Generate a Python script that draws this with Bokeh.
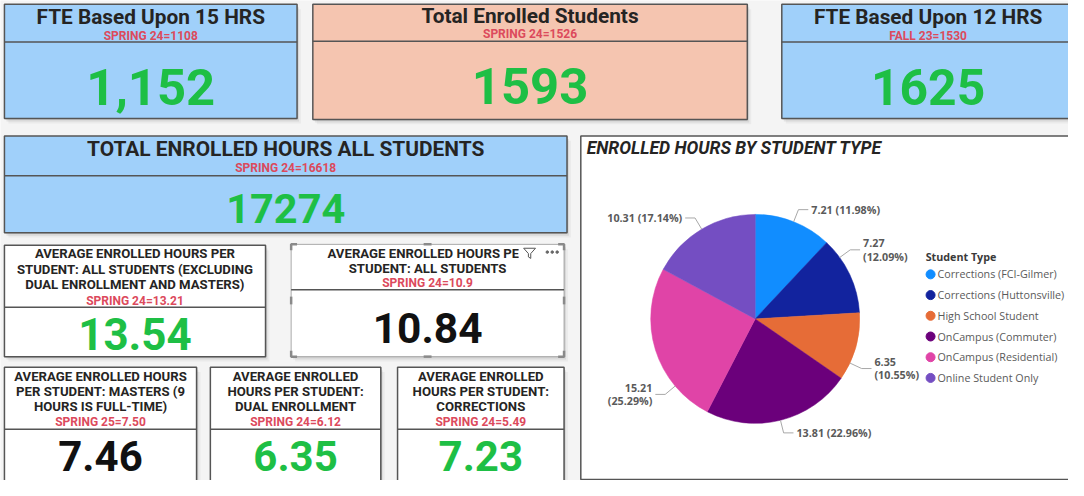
import math
from bokeh.plotting import figure
from bokeh.models import Range1d
from bokeh.core.properties import value
from bokeh.embed import file_html
from bokeh.resources import INLINE

# ---------------- data ----------------
kpi_titles = [
    ["FTE Based Upon 15 HRS"],
    ["Total Enrolled Students"],
    ["FTE Based Upon 12 HRS"],
    ["TOTAL ENROLLED HOURS ALL STUDENTS"],
    ["AVERAGE ENROLLED HOURS PER", "STUDENT: ALL STUDENTS (EXCLUDING", "DUAL ENROLLMENT AND MASTERS)"],
    ["AVERAGE ENROLLED HOURS PER", "STUDENT: ALL STUDENTS"],
    ["AVERAGE ENROLLED HOURS", "PER STUDENT: MASTERS (9", "HOURS IS FULL-TIME)"],
    ["AVERAGE ENROLLED", "HOURS PER STUDENT:", "DUAL ENROLLMENT"],
    ["AVERAGE ENROLLED", "HOURS PER STUDENT:", "CORRECTIONS"],
]
kpi_compare = ["SPRING 24=1108", "SPRING 24=1526", "FALL 23=1530", "SPRING 24=16618",
               "SPRING 24=13.21", "SPRING 24=10.9", "SPRING 25=7.50", "SPRING 24=6.12",
               "SPRING 24=5.49"]
kpi_values = [1152, 1593, 1625, 17274, 13.54, 10.84, 7.46, 6.35, 7.23]
kpi_formats = ["{:,}", "{}", "{}", "{}", "{:.2f}", "{:.2f}", "{:.2f}", "{:.2f}", "{:.2f}"]

pie_title = "ENROLLED HOURS BY STUDENT TYPE"
legend_title = "Student Type"
student_types = ["Corrections (FCI-Gilmer)", "Corrections (Huttonsville)", "High School Student",
                 "OnCampus (Commuter)", "OnCampus (Residential)", "Online Student Only"]
avg_hours = [7.21, 7.27, 6.35, 13.81, 15.21, 10.31]
pct_share = [11.98, 12.09, 10.55, 22.96, 25.29, 17.14]

# ---------------- style / layout ----------------
W, H = 1068, 480
REF_W, REF_H = 1084, 496
SX, SY = W / REF_W, H / REF_H
FS = (SX + SY) / 2          # font scale

BLUE = "#A0D0FA"
SALMON = "#F5C5B0"
WHITE = "#FFFFFF"
GREEN = "#1EBF45"
BLACK = "#111111"
RED = "#DC4A5C"
INK = "#252423"
BORDER = "#555555"
KPI_FONT = "Roboto"
UI = "Open Sans"
slice_colors = ["#118DFF", "#12239E", "#E66C37", "#6B007B", "#E044A7", "#744EC2"]

# tc: title line centres, sc: comparison-line centre, ny: number centre
cards = [
    dict(x0=4, x1=301, y0=4, y1=122, div=43, bg=BLUE, tc=[16.7], ts=21.3, sc=36.2, ny=89, ns=52, nc=GREEN),
    dict(x0=317, x1=758, y0=4, y1=123, div=42, bg=SALMON, tc=[15.5], ts=21.3, sc=35, ny=88.5, ns=52, nc=GREEN),
    dict(x0=793, x1=1090, y0=4, y1=122, div=43, bg=BLUE, tc=[16.7], ts=21.3, sc=36.2, ny=89, ns=51, nc=GREEN),
    dict(x0=4, x1=575, y0=140, y1=240, div=181, bg=BLUE, tc=[153.7], ts=21.4, sc=173.3, ny=215, ns=42.5, nc=GREEN),
    dict(x0=4, x1=269, y0=253, y1=368, div=317, bg=WHITE, tc=[261.8, 277.5, 293.8], ts=13.5, sc=310, ny=345, ns=45, nc=GREEN),
    dict(x0=295, x1=572, y0=252, y1=368, div=299, bg=WHITE, tc=[261.2, 277], ts=13.5, sc=292.2, ny=338.5, ns=43.5, nc=BLACK, sel=True),
    dict(x0=4, x1=199, y0=379, y1=500, div=443, bg=WHITE, tc=[388.3, 404.3, 420], ts=13.5, sc=435.5, ny=470.5, ns=43, nc=BLACK),
    dict(x0=213, x1=386, y0=379, y1=500, div=443, bg=WHITE, tc=[388.3, 404.3, 420], ts=13.5, sc=435.5, ny=470.5, ns=43, nc=GREEN),
    dict(x0=403, x1=572, y0=379, y1=500, div=443, bg=WHITE, tc=[388.3, 404.3, 420], ts=13.5, sc=435.5, ny=470.5, ns=43, nc=GREEN),
]
SUB_SIZE = 12.3
pie_box = dict(x0=589, x1=1090, y0=140, y1=495)
pie_cx, pie_cy, pie_r = 766, 329, 107
label_angles = [68.4, 36, -25, -76, -140, 120.8]   # degrees, label anchor direction
label_two_lines = [False, True, True, False, True, False]
legend_x, legend_y0, legend_dy = 944, 283, 21.4

# ---------------- figure ----------------
p = figure(width=W, height=H, x_range=Range1d(0, REF_W), y_range=Range1d(REF_H, 0),
           output_backend="svg", toolbar_location=None, min_border=0)
p.axis.visible = False
p.xgrid.visible = False
p.ygrid.visible = False
p.outline_line_color = None
p.background_fill_color = "#F4F4F4"
p.border_fill_color = "#F4F4F4"


def add_text(x, y, txt, size, font, color, style="bold", align="center"):
    p.text(x=[x], y=[y], text=[txt], text_font=value(font), text_font_size=f"{size * FS:.2f}px",
           text_font_style=style, text_color=color, text_align=align, text_baseline="middle")


def shadow(x0, x1, y0, y1):
    for dx, dy, a in [(1, 1, 0.10), (2, 3, 0.07), (4, 5, 0.04)]:
        p.quad(left=[x0 + dx], right=[x1 + dx], top=[y0 + dy], bottom=[y1 + dy],
               fill_color="black", fill_alpha=a, line_color=None)


for i, c in enumerate(cards):
    shadow(c["x0"], c["x1"], c["y0"], c["y1"])
    sel = c.get("sel", False)
    p.quad(left=[c["x0"]], right=[c["x1"]], top=[c["y0"]], bottom=[c["y1"]],
           fill_color=c["bg"], line_color="#AAAAAA" if sel else BORDER,
           line_width=1 if sel else 1.5)
    p.line(x=[c["x0"], c["x1"]], y=[c["div"], c["div"]], line_color=BORDER, line_width=1.5)
    cx = (c["x0"] + c["x1"]) / 2
    for line, yc in zip(kpi_titles[i], c["tc"]):
        add_text(cx, yc, line, c["ts"], KPI_FONT, INK)
    add_text(cx, c["sc"], kpi_compare[i], SUB_SIZE, KPI_FONT, RED)
    add_text(cx, c["ny"], kpi_formats[i].format(kpi_values[i]), c["ns"], KPI_FONT, c["nc"])
    if sel:
        # cover behind the header icons
        p.quad(left=[526], right=[570], top=[254], bottom=[271], fill_color=WHITE, line_color=None)
        fx, fy = 537, 261
        p.patch(x=[fx - 6, fx + 6, fx + 1.2, fx + 1.2, fx - 1.2, fx - 1.2],
                y=[fy - 5, fy - 5, fy + 0.5, fy + 5.5, fy + 4, fy + 0.5],
                fill_color=None, line_color="#555555", line_width=1)
        p.scatter(x=[555, 560, 565], y=[fy - 1, fy - 1, fy - 1], size=2.5, color="#666666")
        # selection brackets
        L = 6
        xs, ys = [], []
        for (bx, by, sx, sy) in [(c["x0"], c["y0"], 1, 1), (c["x1"], c["y0"], -1, 1),
                                 (c["x0"], c["y1"], 1, -1), (c["x1"], c["y1"], -1, -1)]:
            xs.append([bx + sx * L, bx, bx])
            ys.append([by, by, by + sy * L])
        my = (c["y0"] + c["y1"]) / 2
        xs += [[cx - 4, cx + 4], [cx - 4, cx + 4], [c["x0"], c["x0"]], [c["x1"], c["x1"]]]
        ys += [[c["y0"], c["y0"]], [c["y1"], c["y1"]], [my - 4, my + 4], [my - 4, my + 4]]
        p.multi_line(xs=xs, ys=ys, line_color="#8A8A8A", line_width=2.5)

# ---------------- pie panel ----------------
b = pie_box
shadow(b["x0"], b["x1"], b["y0"], b["y1"])
p.quad(left=[b["x0"]], right=[b["x1"]], top=[b["y0"]], bottom=[b["y1"]],
       fill_color=WHITE, line_color=BORDER, line_width=1.5)
add_text(b["x0"] + 6, 152, pie_title, 18, KPI_FONT, INK, style="bold italic", align="left")

cum = [0.0]
for v in pct_share:
    cum.append(cum[-1] + v / 100.0)
start = [math.pi / 2 - 2 * math.pi * cum[i + 1] for i in range(len(pct_share))]
end = [math.pi / 2 - 2 * math.pi * cum[i] for i in range(len(pct_share))]
r_screen = pie_r * FS
p.wedge(x=[pie_cx] * len(start), y=[pie_cy] * len(start), radius=r_screen, radius_units="screen",
        start_angle=start, end_angle=end, fill_color=slice_colors, line_color=slice_colors,
        line_width=0.5)

# data labels with leader lines
lx, ly = [], []
for i, ang in enumerate(label_angles):
    a = math.radians(ang)
    ex = pie_cx + r_screen / SX * math.cos(a)
    ey = pie_cy - r_screen / SY * math.sin(a)
    kx = pie_cx + (r_screen + 13) / SX * math.cos(a)
    ky = pie_cy - (r_screen + 13) / SY * math.sin(a)
    side = 1 if math.cos(a) >= 0 else -1
    hx = kx + side * 10
    lx.append([ex, kx, hx])
    ly.append([ey, ky, ky])
    tx = hx + side * 3
    align = "left" if side > 0 else "right"
    vtxt = f"{avg_hours[i]:.2f}"
    ptxt = f"({pct_share[i]:.2f}%)"
    if label_two_lines[i]:
        add_text(tx, ky - 7, vtxt, 11, UI, "#5A5A5A", align=align)
        add_text(tx, ky + 7, ptxt, 11, UI, "#5A5A5A", align=align)
    else:
        add_text(tx, ky, f"{vtxt} {ptxt}", 11, UI, "#5A5A5A", align=align)
p.multi_line(xs=lx, ys=ly, line_color="#A8A8A8", line_width=1)

# legend
add_text(legend_x - 5, 265, legend_title, 11, UI, "#3A3A3A", align="left")
ly_pos = [legend_y0 + legend_dy * i for i in range(len(student_types))]
p.scatter(x=[legend_x] * len(student_types), y=ly_pos, size=9, color=slice_colors)
for name, yy in zip(student_types, ly_pos):
    add_text(legend_x + 7, yy, name, 11, UI, "#5A5A5A", style="normal", align="left")

open("out.html", "w").write(file_html(p, INLINE))
